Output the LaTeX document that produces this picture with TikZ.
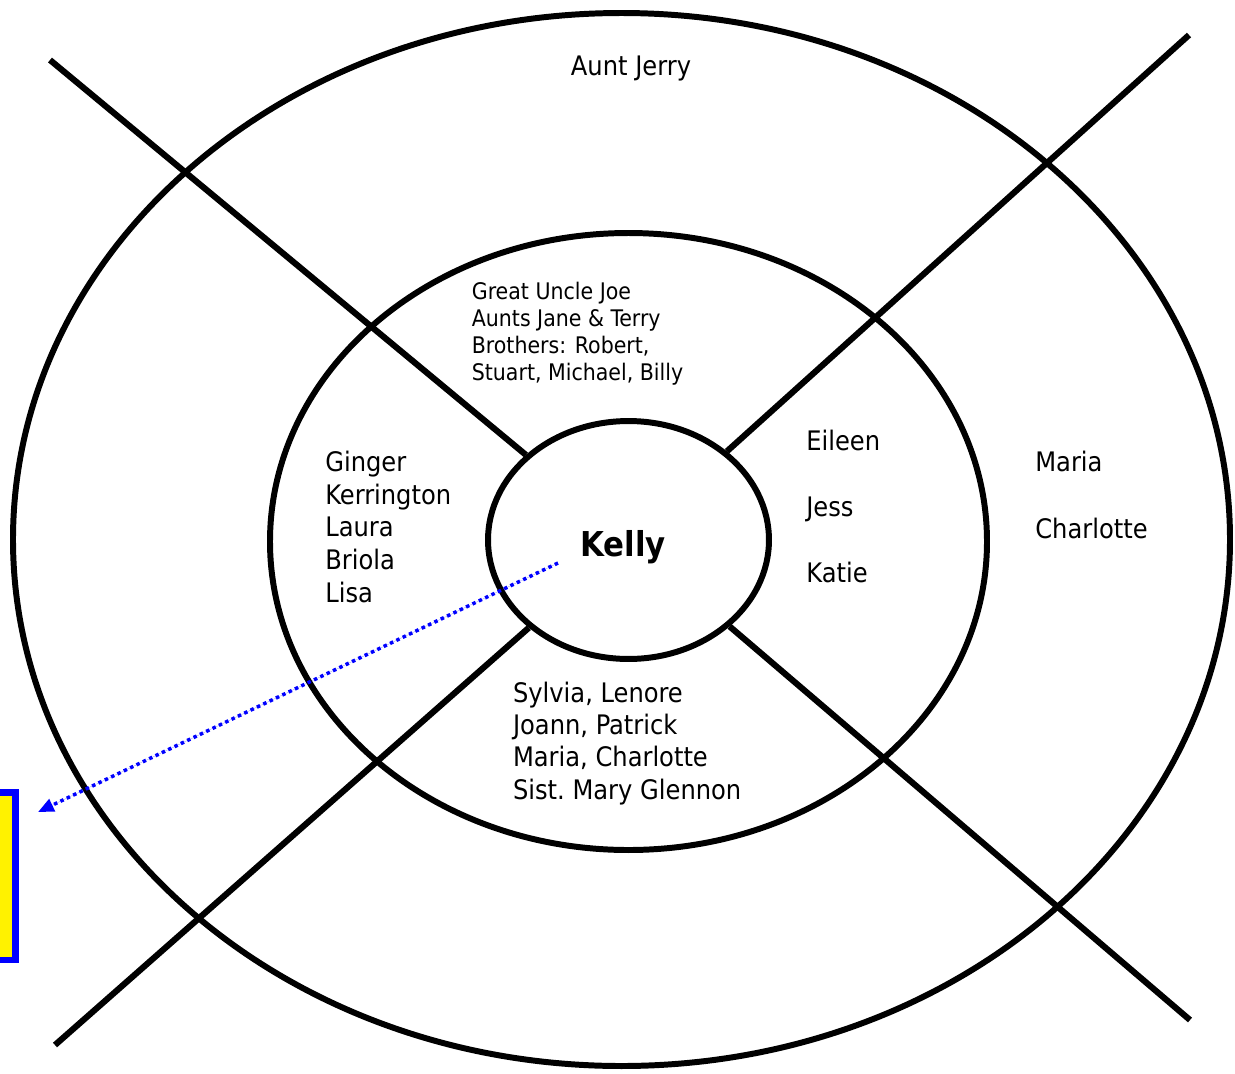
\documentclass[tikz,border=0pt]{standalone}
\usepackage{fontspec}
\setmainfont{DejaVu Sans Condensed}
\usetikzlibrary{arrows.meta,positioning,shapes.geometric}

\begin{document}
\begin{tikzpicture}[
    x=0.02cm, y=-0.02cm,
    ring/.style={draw=black, line width=3.4pt},
    spoke/.style={draw=black, line width=3.5pt},
    names/.style={anchor=base west, inner sep=0pt, align=left, font=\fontsize{15.3}{18.4}\selectfont},
    smallnames/.style={names, font=\fontsize{13}{15.3}\selectfont},
    spread/.style={names, font=\fontsize{15.3}{37.5}\selectfont},
    pointer/.style={-{Triangle[length=9pt, width=7.5pt]}, draw=blue, fill=blue, line width=2pt, dash pattern=on 2pt off 2pt},
    notebox/.style={rectangle, draw=blue, fill=yellow, line width=3.7pt, inner sep=0pt, minimum width=1.51cm, minimum height=3.35cm},
  ]
  \useasboundingbox (0,0) rectangle (1235,1073);

  % Rings
  \draw[ring] (621.5,539.5) ellipse [x radius=608.5, y radius=526.5];
  \draw[ring] (628.5,541.5) ellipse [x radius=358.5, y radius=308.5];
  \node[ring, ellipse, minimum width=5.62cm, minimum height=4.76cm, inner sep=0pt] (inner) at (628.5,540) {};

  % Spokes
  \coordinate (tl) at (50,60);
  \coordinate (tr) at (1189,35);
  \coordinate (bl) at (55,1045);
  \coordinate (br) at (1190,1020);
  \draw[spoke] (tl) -- (inner);
  \draw[spoke] (inner) -- (br);
  \draw[spoke] (tr) -- (inner);
  \draw[spoke] (inner) -- (bl);

  % Names (anchored at the last line)
  \node[names, font=\fontsize{19.5}{22}\selectfont\bfseries] (kelly) at (580,556) {Kelly};
  \node[names, anchor=base] (auntjerry) at (631,75) {Aunt Jerry};
  \node[smallnames] (upper) at (471.5,380) {Great Uncle Joe\\Aunts Jane \& Terry\\Brothers: Robert,\\Stuart, Michael, Billy};
  \node[names, font=\fontsize{15.3}{18.55}\selectfont] (leftside) at (325,602) {Ginger\\Kerrington\\Laura\\Briola\\Lisa};
  \node[spread, font=\fontsize{15.3}{37.3}\selectfont] (rightside) at (806,582) {Eileen\\Jess\\Katie};
  \node[spread, font=\fontsize{15.3}{38}\selectfont] (farright) at (1035,538) {Maria\\Charlotte};
  \node[names, font=\fontsize{15.3}{18.3}\selectfont] (lower) at (512.7,799) {Sylvia, Lenore\\Joann, Patrick\\Maria, Charlotte\\Sist.\ Mary Glennon};

  % Note
  \node[notebox] (note) at (-22.25,876.25) {};
  \coordinate (kellytail) at (558,563);
  \coordinate (notetip) at (38,812);
  \draw[pointer] (kellytail) -- (notetip);
\end{tikzpicture}
\end{document}
